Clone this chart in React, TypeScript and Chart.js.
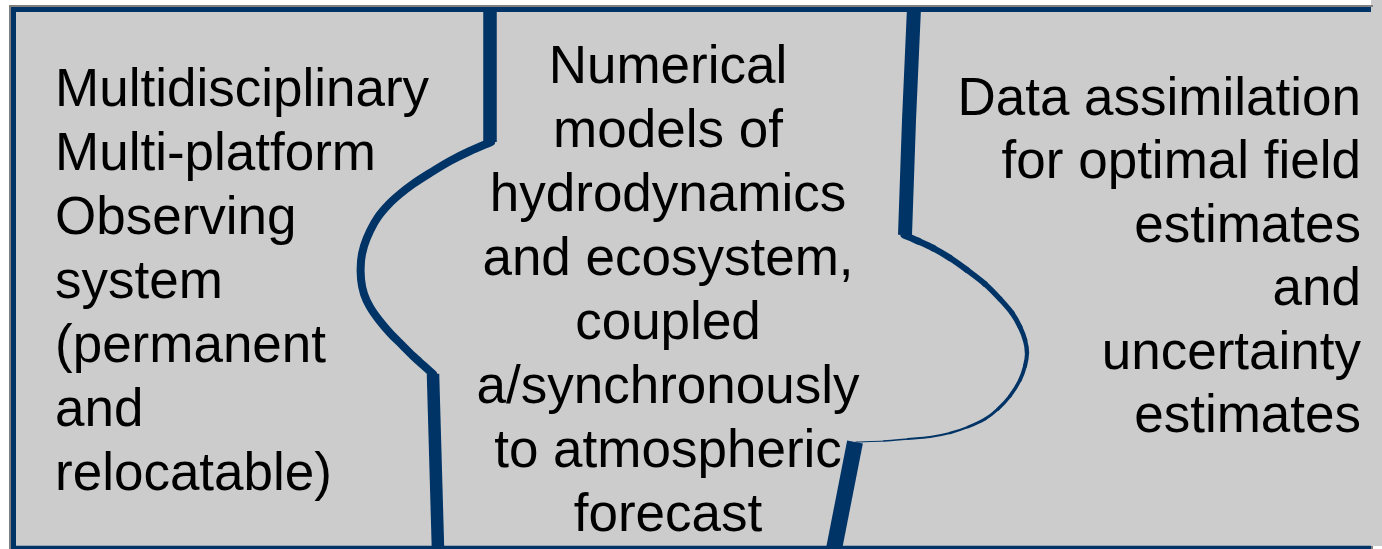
import React, { useEffect, useRef } from "react";
import { Chart, registerables } from "chart.js";

Chart.register(...registerables);

const W = 1382;
const H = 549;

// ---- text content ----
const leftColumnLines = [
  "Multidisciplinary",
  "Multi-platform",
  "Observing",
  "system",
  "(permanent",
  "and",
  "relocatable)",
];
const middleColumnLines = [
  "Numerical",
  "models of",
  "hydrodynamics",
  "and ecosystem,",
  "coupled",
  "a/synchronously",
  "to atmospheric",
  "forecast",
];
const rightColumnLines = [
  "Data assimilation",
  "for optimal field",
  "estimates",
  "and",
  "uncertainty",
  "estimates",
];

// ---- divider shapes (diagram units = pixel grid of the original) ----
const leftDividerTop = [
  { x: 490, y: 8 },
  { x: 490, y: 142 },
];
const leftDividerCurve = [
  { x: 491, y: 142 },
  { x: 470, y: 151 },
  { x: 450, y: 161 },
  { x: 430, y: 173 },
  { x: 413, y: 184 },
  { x: 400, y: 194 },
  { x: 389, y: 204 },
  { x: 378, y: 217 },
  { x: 370, y: 231 },
  { x: 364, y: 246 },
  { x: 361, y: 261 },
  { x: 361, y: 279 },
  { x: 364, y: 294 },
  { x: 370, y: 307 },
  { x: 379, y: 320 },
  { x: 390, y: 333 },
  { x: 402, y: 345 },
  { x: 413, y: 356 },
  { x: 423, y: 365 },
  { x: 433, y: 374 },
];
const leftDividerBottom = [
  { x: 433, y: 374 },
  { x: 438, y: 549 },
];
const rightDividerTop = [
  { x: 914, y: 8 },
  { x: 909, y: 120 },
  { x: 905, y: 235 },
];
const rightDividerCurve = [
  { x: 904, y: 235 },
  { x: 918, y: 241 },
  { x: 933, y: 248 },
  { x: 950, y: 258 },
  { x: 967, y: 270 },
  { x: 985, y: 284 },
  { x: 1000, y: 299 },
  { x: 1012, y: 313 },
  { x: 1020, y: 327 },
  { x: 1025, y: 340 },
  { x: 1027, y: 353 },
  { x: 1025, y: 366 },
  { x: 1020, y: 380 },
  { x: 1010, y: 396 },
  { x: 998, y: 409 },
  { x: 985, y: 419 },
  { x: 968, y: 427 },
  { x: 950, y: 433 },
  { x: 930, y: 437 },
  { x: 908, y: 439 },
  { x: 884, y: 441 },
  { x: 856, y: 442 },
];
const rightCurveWidths = [
  7, 6.7, 6.4, 6.1, 5.8, 5.5, 5.2, 5, 4.7, 4.4, 4.1, 3.8, 3.5, 3.2, 3, 2.7, 2.4, 2.1,
  1.8, 1.5, 1.2,
];
const rightDividerBottom = [
  { x: 855, y: 442 },
  { x: 834, y: 549 },
];

// ---- frame ----
const frameShadow = [
  { x: 10, y: 549 },
  { x: 10, y: 6 },
  { x: 1373, y: 6 },
];
const frameShadowBottomEnd = [
  { x: 1371, y: 547.5 },
  { x: 1373, y: 547.5 },
];
const frameBlue = [
  { x: 13.5, y: 549 },
  { x: 13.5, y: 9.5 },
  { x: 1371, y: 9.5 },
];
const frameBlueBottom = [
  { x: 11, y: 547.5 },
  { x: 1371, y: 547.5 },
];

const BLUE = "#003366";
const FILL = "#cccccc";
const SHADOW = "#808080";
const FONT = '53px "Liberation Sans", Arial, sans-serif';

const LEFT_X = 55;
const LEFT_Y0 = 106;
const LEFT_STEP = 64;
const MID_X = 668;
const MID_Y0 = 83;
const MID_STEP = 64;
const RIGHT_X = 1361;
const RIGHT_Y0 = 115;
const RIGHT_STEP = 63.4;

const backgroundPlugin = {
  id: "panelBackground",
  beforeDraw(chart: any) {
    const { ctx, scales } = chart;
    const px = (v: number) => Math.round(scales.x.getPixelForValue(v));
    const py = (v: number) => Math.round(scales.y.getPixelForValue(v));
    ctx.save();
    ctx.fillStyle = "#ffffff";
    ctx.fillRect(0, 0, chart.width, chart.height);
    ctx.fillStyle = FILL;
    // main panel (runs off the right edge, as in the cropped original)
    ctx.fillRect(px(11), py(7), chart.width - px(11), py(546) - py(7));
    // strip above the frame at the far right
    ctx.fillRect(px(1371), 0, chart.width - px(1371), py(7) + 1);
    ctx.restore();
  },
};

const textPlugin = {
  id: "panelText",
  afterDatasetsDraw(chart: any) {
    const { ctx, scales } = chart;
    const px = (v: number) => scales.x.getPixelForValue(v);
    const py = (v: number) => scales.y.getPixelForValue(v);
    ctx.save();
    ctx.fillStyle = "#000000";
    ctx.font = FONT;
    ctx.textBaseline = "alphabetic";
    ctx.textAlign = "left";
    leftColumnLines.forEach((t, i) => ctx.fillText(t, px(LEFT_X), py(LEFT_Y0 + i * LEFT_STEP)));
    ctx.textAlign = "center";
    middleColumnLines.forEach((t, i) => ctx.fillText(t, px(MID_X), py(MID_Y0 + i * MID_STEP)));
    ctx.textAlign = "right";
    rightColumnLines.forEach((t, i) => ctx.fillText(t, px(RIGHT_X), py(RIGHT_Y0 + i * RIGHT_STEP)));
    ctx.restore();
  },
};

function lineDs(data: any[], width: number, color: string, opts: any = {}) {
  return {
    data,
    showLine: true,
    borderColor: color,
    backgroundColor: color,
    borderWidth: width,
    pointRadius: 0,
    pointHoverRadius: 0,
    fill: false,
    tension: 0,
    borderCapStyle: "butt",
    borderJoinStyle: "miter",
    ...opts,
  };
}

export default function App() {
  const canvasRef = useRef<HTMLCanvasElement | null>(null);

  useEffect(() => {
    if (!canvasRef.current) return;
    const chart = new Chart(canvasRef.current, {
      type: "scatter",
      data: {
        datasets: [
          lineDs(frameShadow, 2, SHADOW),
          lineDs(frameShadowBottomEnd, 3, SHADOW),
          lineDs(frameBlue, 5, BLUE),
          lineDs(frameBlueBottom, 3.5, BLUE),
          lineDs(leftDividerCurve, 8, BLUE, {
            tension: 0.3,
            borderCapStyle: "round",
            borderJoinStyle: "round",
          }),
          lineDs(leftDividerTop, 13.5, BLUE),
          lineDs(leftDividerBottom, 12.5, BLUE),
          lineDs(rightDividerCurve, 5, BLUE, {
            tension: 0.3,
            borderCapStyle: "round",
            borderJoinStyle: "round",
            segment: {
              borderWidth: (c: any) => rightCurveWidths[c.p0DataIndex] ?? 1,
            },
          }),
          lineDs(rightDividerTop, 14, BLUE),
          lineDs(rightDividerBottom, 16, BLUE),
        ] as any,
      },
      options: {
        animation: false,
        responsive: false,
        maintainAspectRatio: false,
        layout: { padding: 0 },
        events: [],
        scales: {
          x: { type: "linear", min: 0, max: W, display: false },
          y: { type: "linear", min: 0, max: H, reverse: true, display: false },
        },
        plugins: {
          legend: { display: false },
          tooltip: { enabled: false },
          title: { display: false },
        },
      } as any,
      plugins: [backgroundPlugin, textPlugin],
    });
    return () => chart.destroy();
  }, []);

  return (
    <div style={{ position: "absolute", left: 0, top: 0, width: W, height: H }}>
      <canvas ref={canvasRef} width={W} height={H} style={{ display: "block" }} />
    </div>
  );
}
